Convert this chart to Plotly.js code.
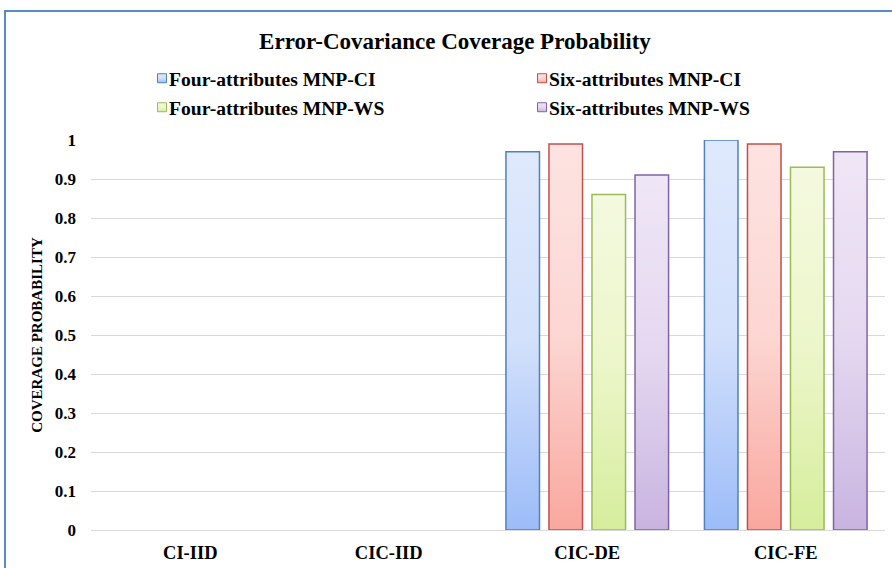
<!DOCTYPE html>
<html>
<head>
<meta charset="utf-8">
<script src="https://cdn.plot.ly/plotly-3.0.1.min.js"></script>
<style>
  html, body { margin: 0; padding: 0; background: #fff; }
  #wrap { position: relative; width: 892px; height: 568px; overflow: hidden; }
  #chart { width: 892px; height: 568px; }
  #frame { position: absolute; left: 4px; top: 10px; width: 1000px; height: 1000px;
           border-left: 2px solid #5a8ac6; border-top: 2px solid #5a8ac6; pointer-events: none; }
  #grads { position: absolute; width: 0; height: 0; }
</style>
</head>
<body>
<svg id="grads" aria-hidden="true">
  <defs>
    <linearGradient id="g0" x1="0" y1="0" x2="0" y2="1">
      <stop offset="0" stop-color="#dfe9fd"/><stop offset="0.5" stop-color="#d2e0fb"/><stop offset="1" stop-color="#9cbcf8"/>
    </linearGradient>
    <linearGradient id="g1" x1="0" y1="0" x2="0" y2="1">
      <stop offset="0" stop-color="#fde3e1"/><stop offset="0.5" stop-color="#fcd6d2"/><stop offset="1" stop-color="#f9a79e"/>
    </linearGradient>
    <linearGradient id="g2" x1="0" y1="0" x2="0" y2="1">
      <stop offset="0" stop-color="#f4f9df"/><stop offset="0.5" stop-color="#ecf6ca"/><stop offset="1" stop-color="#d6ed9c"/>
    </linearGradient>
    <linearGradient id="g3" x1="0" y1="0" x2="0" y2="1">
      <stop offset="0" stop-color="#efe6f6"/><stop offset="0.5" stop-color="#e4d8f0"/><stop offset="1" stop-color="#c9b4e0"/>
    </linearGradient>
  </defs>
</svg>
<div id="wrap">
  <div id="chart"></div>
  <div id="frame"></div>
</div>
<script>
// ---- data ----
const categories = ["CI-IID", "CIC-IID", "CIC-DE", "CIC-FE"];
const seriesNames = ["Four-attributes MNP-CI", "Six-attributes MNP-CI", "Four-attributes MNP-WS", "Six-attributes MNP-WS"];
const fourCI = [null, null, 0.97, 1.00];
const sixCI  = [null, null, 0.99, 0.99];
const fourWS = [null, null, 0.86, 0.93];
const sixWS  = [null, null, 0.91, 0.97];
const yTickVals = [0, 0.1, 0.2, 0.3, 0.4, 0.5, 0.6, 0.7, 0.8, 0.9, 1];
const titleText = "Error-Covariance Coverage Probability";
const yTitleText = "COVERAGE PROBABILITY";

// ---- styles ----
const serif = "Liberation Serif";
const lineColors = ["#4f81bd", "#c0504d", "#9bbb59", "#8064a2"];
const fillColors = ["#c3d5fa", "#fcc7c1", "#e6f3b8", "#ddcdec"];
const legendIds = ["legend", "legend2", "legend3", "legend4"];
const legendPos = [[129, 78.5], [509, 78.5], [129, 107.5], [509, 107.5]];
const allSeries = [fourCI, sixCI, fourWS, sixWS];

const traces = allSeries.map((vals, i) => ({
  type: "bar",
  name: seriesNames[i],
  x: categories,
  y: vals,
  legend: legendIds[i],
  marker: { color: fillColors[i], line: { color: lineColors[i], width: 1.5 } },
  hoverinfo: "none"
}));

const layout = {
  width: 892,
  height: 568,
  font: { family: serif, color: "#000" },
  margin: { l: 91, r: 7, t: 140, b: 38 },
  paper_bgcolor: "#ffffff",
  plot_bgcolor: "#ffffff",
  bargap: 0.133,
  bargroupgap: 0.22,
  title: {
    text: "<b>" + titleText + "</b>",
    font: { family: serif, size: 23, color: "#000" },
    xref: "container", x: 455 / 892, xanchor: "center",
    yref: "container", y: 1 - 41 / 568, yanchor: "middle"
  },
  xaxis: {
    type: "category",
    categoryorder: "array", categoryarray: categories,
    tickfont: { family: serif, size: 18.5, color: "#000", weight: "bold" },
    showgrid: false, showline: false, zeroline: false,
    ticks: "", ticklabelstandoff: 9,
    fixedrange: true
  },
  yaxis: {
    range: [0, 1],
    tickmode: "array", tickvals: yTickVals,
    tickfont: { family: serif, size: 17, color: "#000", weight: "bold" },
    showgrid: true, gridcolor: "#d9d9d9", gridwidth: 1,
    zeroline: true, zerolinecolor: "#d9d9d9", zerolinewidth: 1,
    showline: false, ticks: "", ticklabelstandoff: 14,
    title: { text: "<b>" + yTitleText + "</b>", font: { family: serif, size: 15, color: "#000" }, standoff: 8 },
    automargin: false,
    fixedrange: true
  },
  showlegend: true
};
legendIds.forEach((id, i) => {
  layout[id] = {
    orientation: "h", xref: "container", yref: "container",
    x: legendPos[i][0] / 892, xanchor: "left",
    y: 1 - legendPos[i][1] / 568, yanchor: "middle",
    font: { family: serif, size: 19.6, color: "#000", weight: "bold" },
    bgcolor: "rgba(0,0,0,0)", borderwidth: 0
  };
});

Plotly.newPlot("chart", traces, layout, { displayModeBar: false, staticPlot: true }).then(gd => {
  // gradient fills on bars
  gd.querySelectorAll(".barlayer .trace").forEach((tr, i) => {
    tr.querySelectorAll(".point path").forEach(p => { p.style.fill = "url(#g" + (i % 4) + ")"; });
  });
  // legend symbols: small squares with gradient, close to the text
  gd.querySelectorAll("g.traces").forEach(el => {
    const d = el.__data__;
    let idx = 0;
    if (d && d[0] && d[0].trace) idx = d[0].trace.index;
    const lp = el.querySelector(".legendpoints");
    if (lp) lp.setAttribute("transform", "translate(13,0)");
    el.querySelectorAll(".legendpoints path").forEach(p => {
      p.setAttribute("d", "M4.5,4.5H-4.5V-4.5H4.5Z");
      p.style.fill = "url(#g" + idx + ")";
      p.style.stroke = lineColors[idx];
      p.style.strokeWidth = "1px";
    });
  });
});
</script>
</body>
</html>
